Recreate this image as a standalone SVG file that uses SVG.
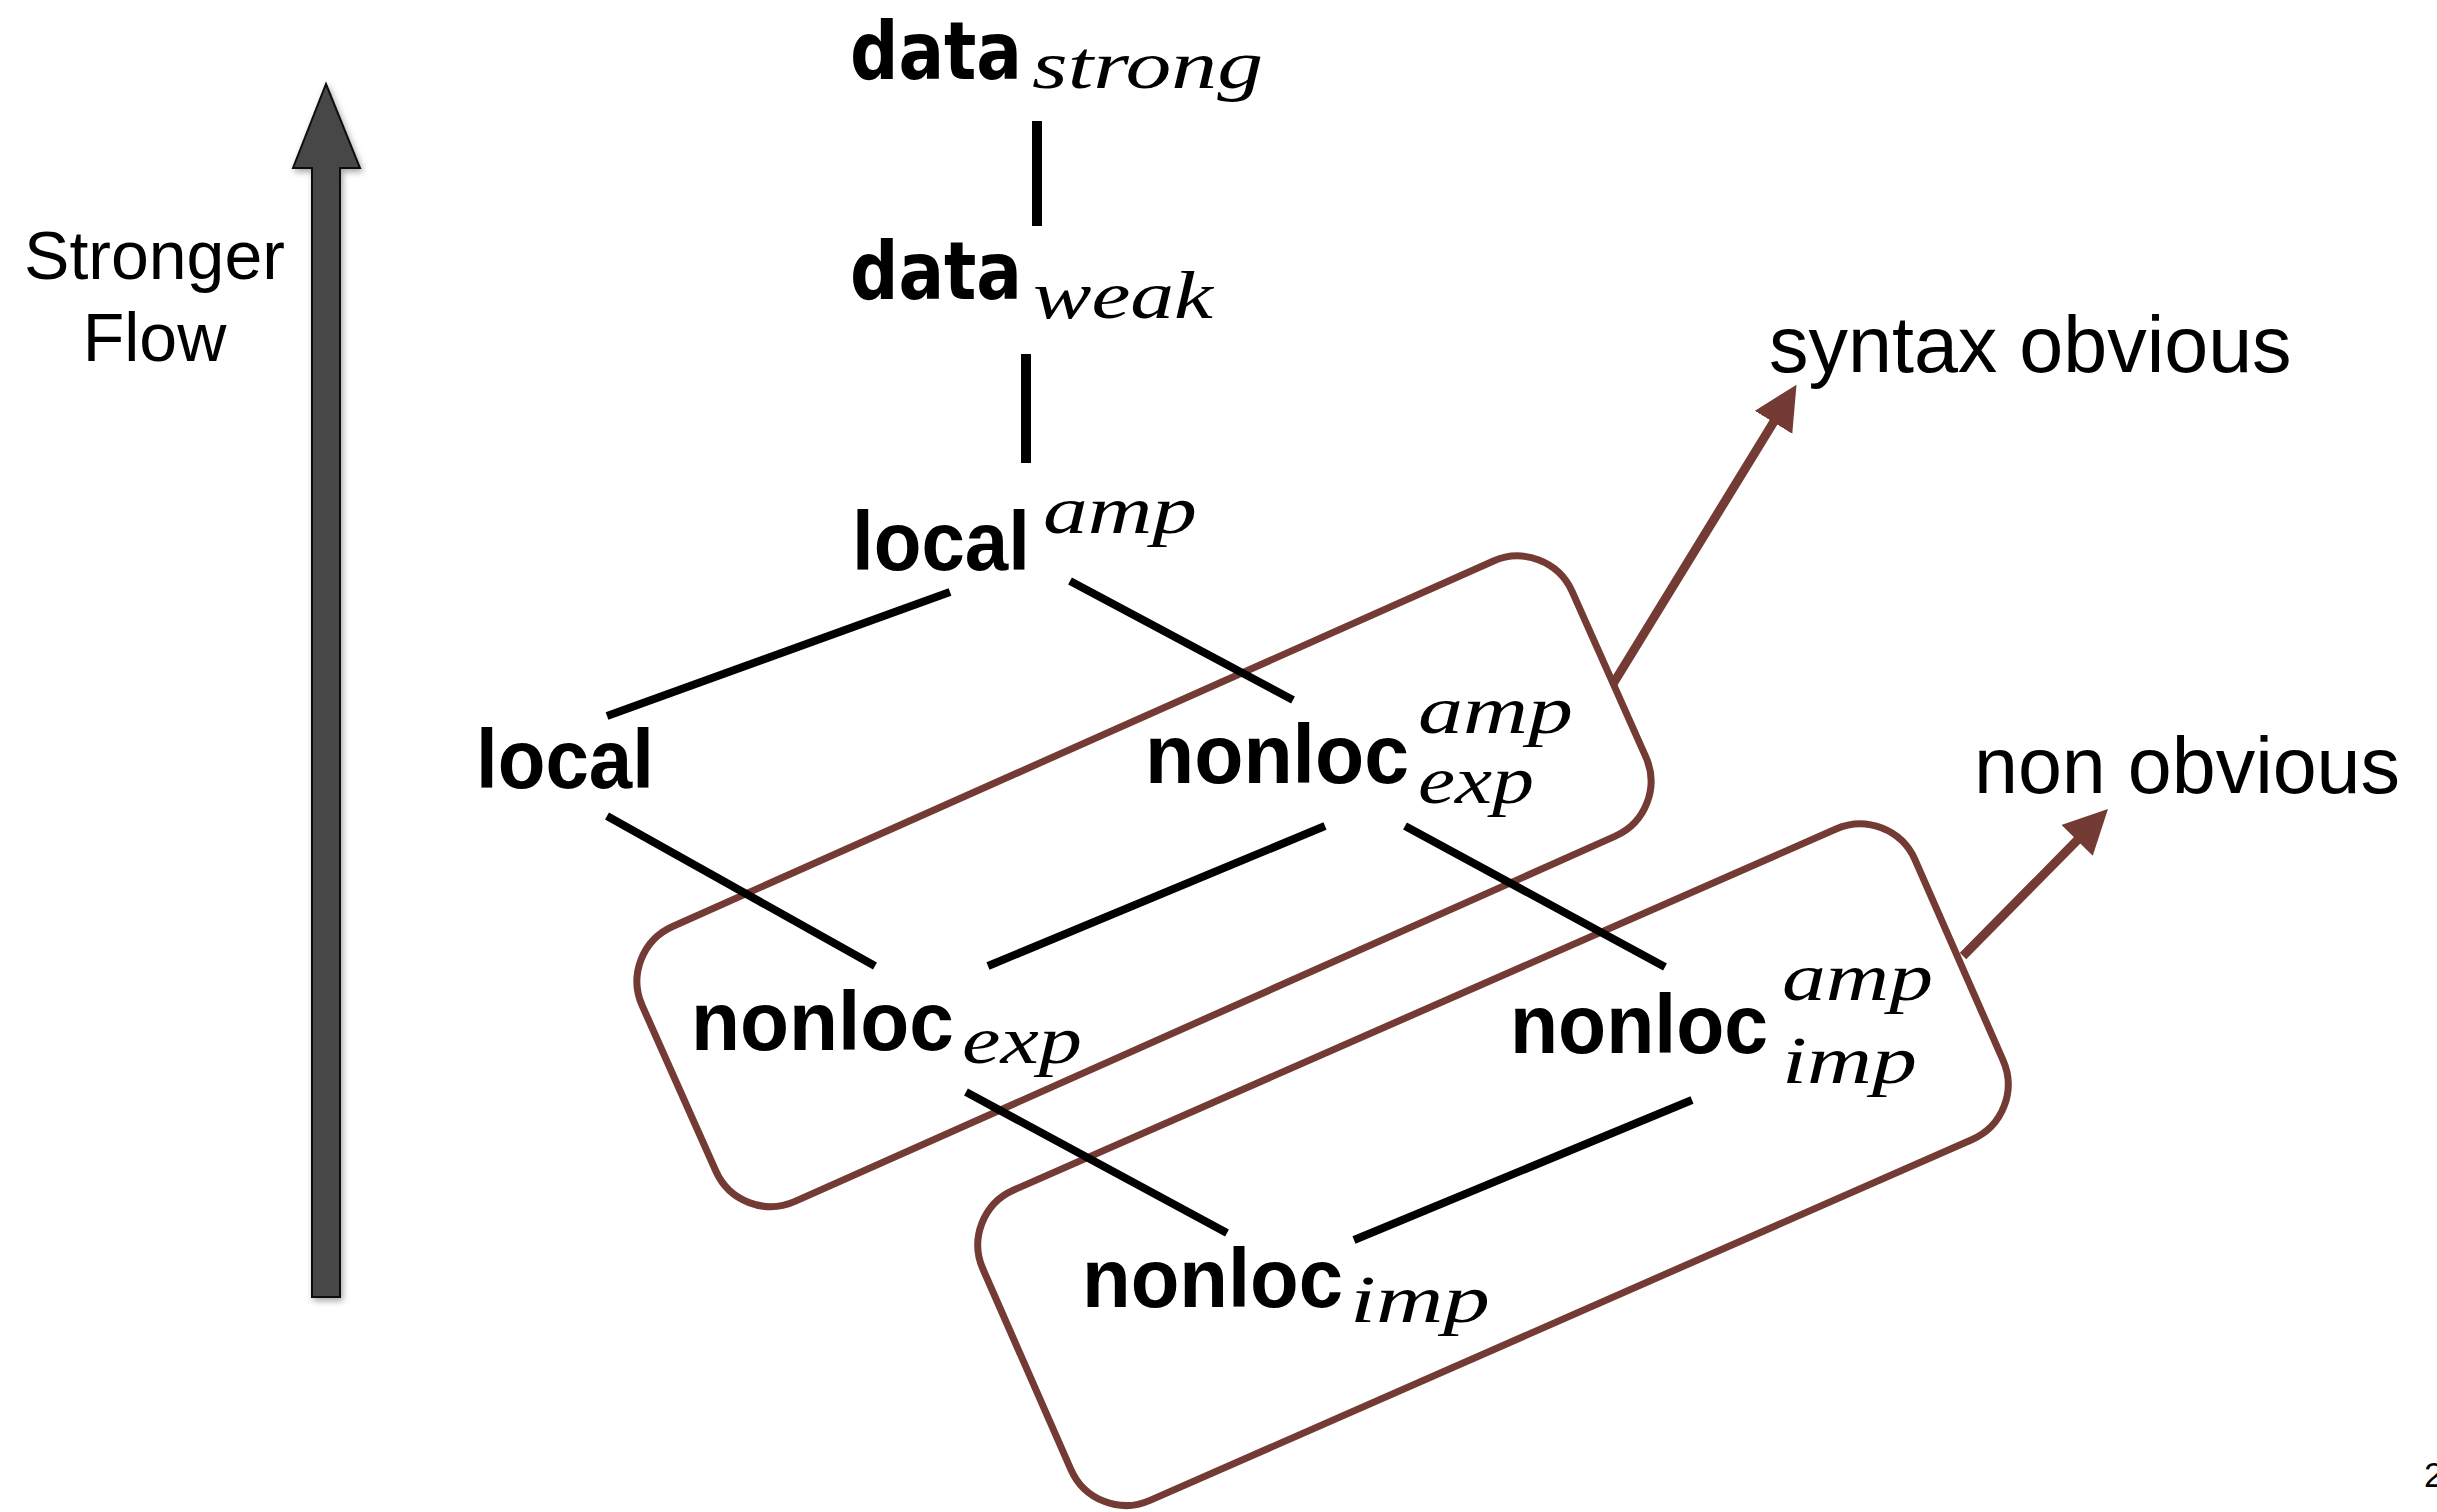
<svg xmlns="http://www.w3.org/2000/svg" width="2437" height="1512" viewBox="0 0 2437 1512">
<style>
.b{font-family:"Liberation Sans",Arial,sans-serif;font-weight:bold;font-size:84px;fill:#000}
.d{font-family:"DejaVu Sans",Verdana,sans-serif;font-weight:bold;font-size:80px;fill:#000}
.m{font-family:"Liberation Serif","Times New Roman",serif;font-style:italic;font-size:68px;fill:#000}
.s{font-family:"Liberation Sans",Arial,sans-serif;font-size:79px;fill:#000}
.e{stroke:#000;stroke-width:8;stroke-linecap:butt;fill:none}
.g{fill:none;stroke:#743B35;stroke-width:7}
.a{stroke:#743B35;stroke-width:9;fill:none;marker-end:url(#ah)}
</style>
<defs>
<marker id="ah" markerUnits="userSpaceOnUse" markerWidth="46" markerHeight="46" refX="4" refY="22" orient="auto">
<path d="M0,0 L44,22 L0,44 z" fill="#743B35"/>
</marker>
<filter id="sh" x="-50%" y="-10%" width="200%" height="120%">
<feDropShadow dx="2" dy="3" stdDeviation="3" flood-color="#000" flood-opacity="0.35"/>
</filter>
</defs>
<rect width="2437" height="1512" fill="#fff"/>

<g id="flow-arrow">
<polygon points="326,84 360,168 340,168 340,1297 312,1297 312,168 293,168" fill="#474747" stroke="#111" stroke-width="2" stroke-linejoin="miter" filter="url(#sh)"/>
<text x="154.5" y="279" text-anchor="middle" style="font-family:'Liberation Sans',Arial,sans-serif;font-size:68px">Stronger</text>
<text x="154.5" y="361" text-anchor="middle" style="font-family:'Liberation Sans',Arial,sans-serif;font-size:68px">Flow</text>
</g>

<g id="groups">
<rect id="group-syntax-obvious" class="g" x="-509" y="-150.5" width="1018" height="301" rx="60" transform="translate(1144,881.3) rotate(-24)"/>
<rect id="group-non-obvious" class="g" x="-509" y="-169.5" width="1018" height="339" rx="60" transform="translate(1493,1164.7) rotate(-23.7)"/>
</g>

<g id="connectors">
<line class="e" x1="1037" y1="121" x2="1037" y2="226" style="stroke-width:10"/>
<line class="e" x1="1026" y1="354" x2="1026" y2="463" style="stroke-width:10"/>
<line class="e" x1="950" y1="592" x2="607" y2="716"/>
<line class="e" x1="1070" y1="581" x2="1293" y2="700"/>
<line class="e" x1="607" y1="816" x2="875" y2="966"/>
<line class="e" x1="1325" y1="826" x2="988" y2="966"/>
<line class="e" x1="1405" y1="826" x2="1665" y2="967"/>
<line class="e" x1="966" y1="1092" x2="1227" y2="1233"/>
<line class="e" x1="1692" y1="1100" x2="1354" y2="1240"/>
<line class="a" x1="1613" y1="684" x2="1775.6" y2="418.9"/>
<line class="a" x1="1963" y1="956" x2="2079.9" y2="837.5"/>
</g>

<g id="node-data-strong">
<text class="d" x="850" y="78.5" textLength="172" lengthAdjust="spacingAndGlyphs">data</text>
<text class="m" x="1032" y="88" textLength="231" lengthAdjust="spacingAndGlyphs">strong</text>
</g>
<g id="node-data-weak">
<text class="d" x="850" y="298.5" textLength="172" lengthAdjust="spacingAndGlyphs">data</text>
<text class="m" x="1033" y="318" textLength="180" lengthAdjust="spacingAndGlyphs">weak</text>
</g>
<g id="node-local-amp">
<text class="b" x="852" y="570" textLength="178" lengthAdjust="spacingAndGlyphs">local</text>
<text class="m" x="1043" y="533" textLength="154" lengthAdjust="spacingAndGlyphs">amp</text>
</g>
<g id="node-local">
<text class="b" x="476" y="787.5" textLength="178" lengthAdjust="spacingAndGlyphs">local</text>
</g>
<g id="node-nonloc-amp-exp">
<text class="b" x="1145" y="783" textLength="264" lengthAdjust="spacingAndGlyphs">nonloc</text>
<text class="m" x="1418" y="733" textLength="155" lengthAdjust="spacingAndGlyphs">amp</text>
<text class="m" x="1418" y="803" textLength="116" lengthAdjust="spacingAndGlyphs">exp</text>
</g>
<g id="node-nonloc-exp">
<text class="b" x="691" y="1050" textLength="263" lengthAdjust="spacingAndGlyphs">nonloc</text>
<text class="m" x="962" y="1063" textLength="120" lengthAdjust="spacingAndGlyphs">exp</text>
</g>
<g id="node-nonloc-amp-imp">
<text class="b" x="1510" y="1053" textLength="258" lengthAdjust="spacingAndGlyphs">nonloc</text>
<text class="m" x="1782" y="1000" textLength="151" lengthAdjust="spacingAndGlyphs">amp</text>
<text class="m" x="1782" y="1083" textLength="135" lengthAdjust="spacingAndGlyphs">imp</text>
</g>
<g id="node-nonloc-imp">
<text class="b" x="1082" y="1307" textLength="261" lengthAdjust="spacingAndGlyphs">nonloc</text>
<text class="m" x="1350" y="1322" textLength="140" lengthAdjust="spacingAndGlyphs">imp</text>
</g>

<g id="labels">
<text class="s" x="1769" y="372">syntax obvious</text>
<text class="s" x="1974" y="793">non obvious</text>
<text x="2424" y="1487" style="font-family:'Liberation Sans',Arial,sans-serif;font-size:35px">2</text>
</g>
</svg>
